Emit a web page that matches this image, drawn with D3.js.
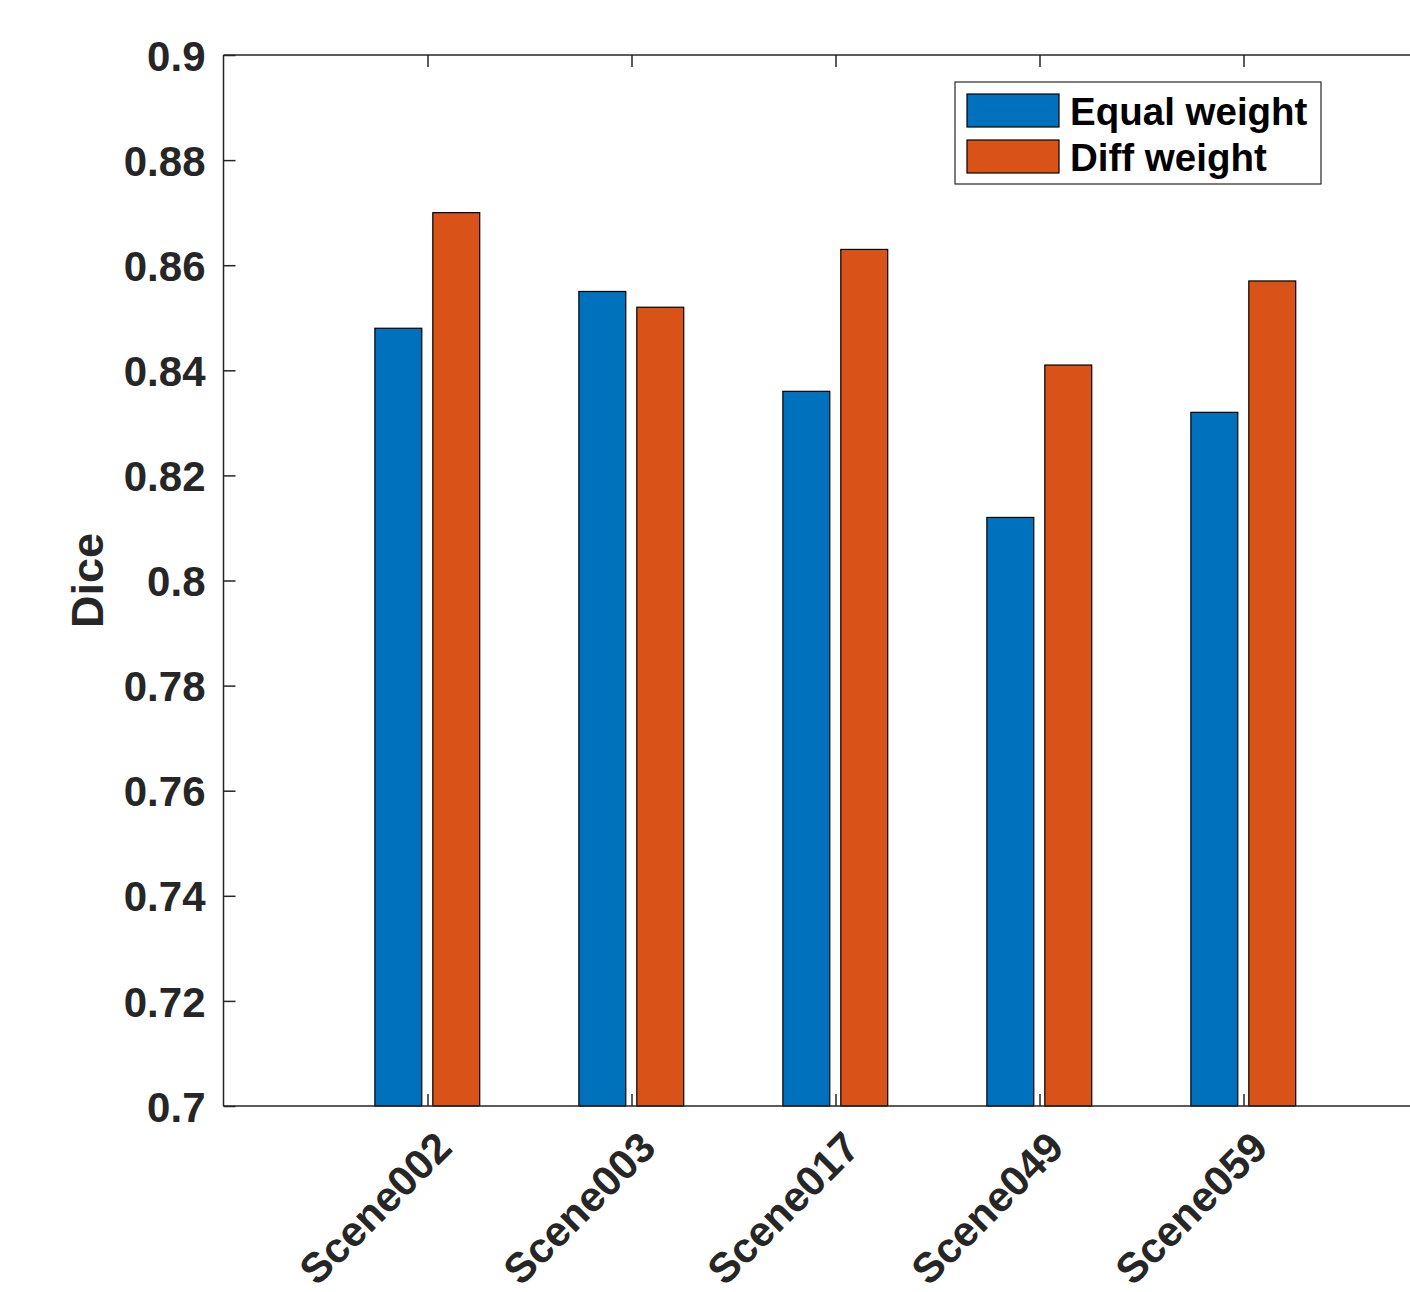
<!DOCTYPE html>
<html>
<head>
<meta charset="utf-8">
<script src="https://cdn.jsdelivr.net/npm/d3@7"></script>
<style>
  html, body { margin: 0; padding: 0; background: #fff; }
  svg { display: block; }
  text { font-family: "Liberation Sans", Arial, Helvetica, sans-serif; font-weight: bold; }
</style>
</head>
<body>
<svg id="chart" width="1410" height="1292"></svg>
<script>
// Dice scores per scene for the two weighting schemes
const scenes = ["Scene002", "Scene003", "Scene017", "Scene049", "Scene059"];
const equalWeight = [0.848, 0.855, 0.836, 0.812, 0.832];
const diffWeight = [0.870, 0.852, 0.863, 0.841, 0.857];
const seriesNames = ["Equal weight", "Diff weight"];
const seriesColors = ["#0072BD", "#D95319"];
const yTicks = [0.7, 0.72, 0.74, 0.76, 0.78, 0.8, 0.82, 0.84, 0.86, 0.88, 0.9];
const yLabel = "Dice";

const svg = d3.select("#chart");
const axisColor = "#262626";

const plotLeft = 223.5, plotTop = 55, plotBottom = 1106;
const unit = 204.0;
const x = d3.scaleLinear().domain([0, 6]).range([plotLeft, plotLeft + 6 * unit]);
const y = d3.scaleLinear().domain([0.7, 0.9]).range([plotBottom, plotTop]);

const barWidth = 0.23;
const offsets = [-0.143, 0.141];
const series = [equalWeight, diffWeight];

// bars
series.forEach((vals, si) => {
  svg.append("g")
    .selectAll("rect")
    .data(vals)
    .join("rect")
    .attr("x", (d, i) => x(i + 1 + offsets[si] - barWidth / 2))
    .attr("width", x(barWidth) - x(0))
    .attr("y", d => y(d))
    .attr("height", d => y(0.7) - y(d))
    .attr("fill", seriesColors[si])
    .attr("stroke", "#000")
    .attr("stroke-width", 1.2);
});

// axes (box style, ticks pointing inward)
const tickLen = 12;
const xTickVals = scenes.map((s, i) => i + 1);

const yAxis = d3.axisLeft(y).tickValues(yTicks).tickSize(-tickLen).tickPadding(18)
  .tickFormat(d3.format("~g"));
const gy = svg.append("g").attr("transform", `translate(${plotLeft},0)`).call(yAxis);
gy.select(".domain").attr("stroke", axisColor).attr("stroke-width", 1.5)
  .attr("d", `M0,${plotBottom}V${plotTop}`);
gy.selectAll(".tick line").attr("stroke", axisColor).attr("stroke-width", 1.5);
gy.selectAll(".tick text").attr("fill", axisColor).style("font-size", "42px")
  .attr("font-family", null).attr("dy", "0.36em");

const xAxis = d3.axisBottom(x).tickValues(xTickVals).tickSize(-tickLen).tickFormat(d => scenes[d - 1]);
const gx = svg.append("g").attr("transform", `translate(0,${plotBottom})`).call(xAxis);
gx.select(".domain").attr("stroke", axisColor).attr("stroke-width", 1.5)
  .attr("d", `M${plotLeft},0H1412`);
gx.selectAll(".tick line").attr("stroke", axisColor).attr("stroke-width", 1.5);
gx.selectAll(".tick text")
  .attr("fill", axisColor).style("font-size", "42px").attr("font-family", null)
  .attr("text-anchor", "end")
  .attr("y", null).attr("dy", null)
  .attr("transform", "translate(26,44) rotate(-45)");

const xTop = d3.axisTop(x).tickValues(xTickVals).tickSize(-tickLen).tickFormat("");
const gt = svg.append("g").attr("transform", `translate(0,${plotTop})`).call(xTop);
gt.select(".domain").attr("stroke", axisColor).attr("stroke-width", 1.5)
  .attr("d", `M${plotLeft},0H1412`);
gt.selectAll(".tick line").attr("stroke", axisColor).attr("stroke-width", 1.5);

// y-axis title
svg.append("text")
  .attr("transform", `translate(103,${(plotTop + plotBottom) / 2}) rotate(-90)`)
  .attr("text-anchor", "middle")
  .attr("fill", axisColor)
  .style("font-size", "45px")
  .text(yLabel);

// legend
const lg = svg.append("g").attr("transform", "translate(955,82)");
lg.append("rect").attr("x", 0).attr("y", 0).attr("width", 366).attr("height", 102)
  .attr("fill", "#fff").attr("stroke", axisColor).attr("stroke-width", 1.2);
seriesNames.forEach((name, i) => {
  lg.append("rect").attr("x", 12).attr("y", 12 + i * 46).attr("width", 92).attr("height", 33)
    .attr("fill", seriesColors[i]).attr("stroke", "#000").attr("stroke-width", 1.2);
  lg.append("text").attr("x", 115).attr("y", 43 + i * 46)
    .attr("fill", "#000").style("font-size", "38.5px").text(name);
});
</script>
</body>
</html>
